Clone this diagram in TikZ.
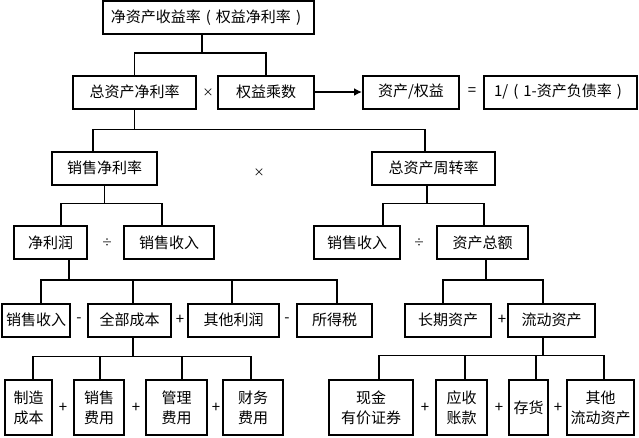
\documentclass[tikz,border=0pt]{standalone}
\usepackage{fontspec}
\setmainfont{Noto Sans CJK SC}
\usetikzlibrary{arrows.meta}

\tikzset{
  box/.style={draw, line width=2pt, inner sep=0pt, minimum height=33pt, align=center},
  tallbox/.style={box, minimum height=55pt},
  link/.style={line width=1.8pt},
  op/.style={inner sep=0pt},
  smallop/.style={op, font=\fontsize{11}{13}\selectfont},
}
\newcommand{\lpar}{\hspace{5pt}(\hspace{5pt}}
\newcommand{\rpar}{\hspace{5pt})\hspace{5pt}}

\begin{document}
\begin{tikzpicture}[x=1pt, y=-1pt, font=\fontsize{15}{20}\selectfont]
            \useasboundingbox (0,0) rectangle (639,437);
            % level 1
            \node[box, minimum width=211pt] (roe) at (208.5,17.5) {净资产收益率\lpar 权益净利率\rpar};
            % level 2
            \node[box, minimum width=123pt] (roa) at (134.5,92) {总资产净利率};
            \node[smallop] (times1) at (208,93) {×};
            \node[box, minimum width=96pt] (em) at (266,92) {权益乘数};
            \node[box, minimum width=96pt] (ae) at (411,92) {资产/权益};
            \node[op] (eq1) at (472,92) {=};
            \node[box, minimum width=153pt] (debt) at (560.5,92) {1/\lpar 1-资产负债率\rpar};
            % level 3
            \node[box, minimum width=105pt] (npm) at (104.5,168) {销售净利率};
            \node[smallop] (times2) at (259,173) {×};
            \node[box, minimum width=123pt] (tat) at (433.5,168) {总资产周转率};
            % level 4
            \node[box, minimum width=73pt] (np) at (50.5,242.5) {净利润};
            \node[smallop] (div1) at (107,242.5) {÷};
            \node[box, minimum width=90pt] (rev1) at (169,242.5) {销售收入};
            \node[box, minimum width=86pt] (rev2) at (357,242.5) {销售收入};
            \node[smallop] (div2) at (419,242.5) {÷};
            \node[box, minimum width=91pt] (ta) at (482.5,242.5) {资产总额};
            % level 5
            \node[box, minimum width=68pt] (rev3) at (36,320) {销售收入};
            \node[op] (minus1) at (79,320) {-};
            \node[box, minimum width=83pt] (cost) at (129.5,320) {全部成本};
            \node[op] (plus1) at (180,320) {+};
            \node[box, minimum width=91pt] (other) at (233.5,320) {其他利润};
            \node[op] (minus2) at (287,320) {-};
            \node[box, minimum width=75pt] (tax) at (334.5,320) {所得税};
            \node[box, minimum width=86pt] (lta) at (448,320) {长期资产};
            \node[op] (plus2) at (502,320) {+};
            \node[box, minimum width=87pt] (ca) at (551.5,320) {流动资产};
            % level 6
            \node[tallbox, minimum width=47pt] (mfg) at (28.5,407.5) {制造\\成本};
            \node[op] (plus3) at (63,407.5) {+};
            \node[tallbox, minimum width=50pt] (sell) at (99,407.5) {销售\\费用};
            \node[op] (plus4) at (136,407.5) {+};
            \node[tallbox, minimum width=61pt] (admin) at (176.5,407.5) {管理\\费用};
            \node[op] (plus5) at (216,407.5) {+};
            \node[tallbox, minimum width=60pt] (fin) at (253,407.5) {财务\\费用};
            \node[tallbox, minimum width=84pt] (cash) at (371,407.5) {现金\\有价证券};
            \node[op] (plus6) at (425,407.5) {+};
            \node[tallbox, minimum width=51pt] (recv) at (461.5,407.5) {应收\\账款};
            \node[op] (plus7) at (499,407.5) {+};
            \node[tallbox, minimum width=39pt] (inv) at (528.5,407.5) {存货};
            \node[op] (plus8) at (558,407.5) {+};
            \node[tallbox, minimum width=67pt] (oca) at (600.5,407.5) {其他\\流动资产};
            % arrow em -> ae
            \draw[link, -{Latex[length=8pt, width=8pt]}] (em.east) -- (ae.west);
            % roe -> roa, em
            \draw[link] ([xshift=-6.5pt]roe.south) -- ++(0,18) -| (roa.north);
            \draw[link] ([xshift=-6.5pt]roe.south) -- ++(0,18) -| (em.north);
            % roa -> npm, tat
            \draw[link] (roa.south) -- ++(0,20) -| ([xshift=-11.5pt]npm.north);
            \draw[link] (roa.south) -- ++(0,20) -| ([xshift=-8.5pt]tat.north);
            % npm -> np, rev1
            \draw[link] (npm.south) -- ++(0,18) -| ([xshift=10.5pt]np.north);
            \draw[link] (npm.south) -- ++(0,18) -| ([xshift=-7pt]rev1.north);
            % tat -> rev2, ta
            \draw[link] ([xshift=-6.5pt]tat.south) -- ++(0,18) -| ([xshift=26pt]rev2.north);
            \draw[link] ([xshift=-6.5pt]tat.south) -- ++(0,18) -| ([xshift=1.5pt]ta.north);
            % np -> rev3, cost, other, tax
            \draw[link] ([xshift=18.5pt]np.south) -- ++(0,20) -| ([xshift=5pt]rev3.north);
            \draw[link] ([xshift=18.5pt]np.south) -- ++(0,20) -| ([xshift=3.5pt]cost.north);
            \draw[link] ([xshift=18.5pt]np.south) -- ++(0,20) -| ([xshift=-1.5pt]other.north);
            \draw[link] ([xshift=18.5pt]np.south) -- ++(0,20) -| ([xshift=2.5pt]tax.north);
            % ta -> lta, ca
            \draw[link] ([xshift=3.5pt]ta.south) -- ++(0,20) -| ([xshift=-5pt]lta.north);
            \draw[link] ([xshift=3.5pt]ta.south) -- ++(0,20) -| ([xshift=-8.5pt]ca.north);
            % cost -> mfg, sell, admin, fin
            \draw[link] ([xshift=3.5pt]cost.south) -- ++(0,19) -| ([xshift=4.5pt]mfg.north);
            \draw[link] ([xshift=3.5pt]cost.south) -- ++(0,19) -| ([xshift=1pt]sell.north);
            \draw[link] ([xshift=3.5pt]cost.south) -- ++(0,19) -| ([xshift=5.5pt]admin.north);
            \draw[link] ([xshift=3.5pt]cost.south) -- ++(0,19) -| ([xshift=-2pt]fin.north);
            % ca -> cash, recv, inv, oca
            \draw[link] ([xshift=-8.5pt]ca.south) -- ++(0,18) -| ([xshift=8pt]cash.north);
            \draw[link] ([xshift=-8.5pt]ca.south) -- ++(0,18) -| ([xshift=3.5pt]recv.north);
            \draw[link] ([xshift=-8.5pt]ca.south) -- ++(0,18) -| ([xshift=7.5pt]inv.north);
            \draw[link] ([xshift=-8.5pt]ca.south) -- ++(0,18) -| ([xshift=3.5pt]oca.north);
        \end{tikzpicture}
\end{document}
